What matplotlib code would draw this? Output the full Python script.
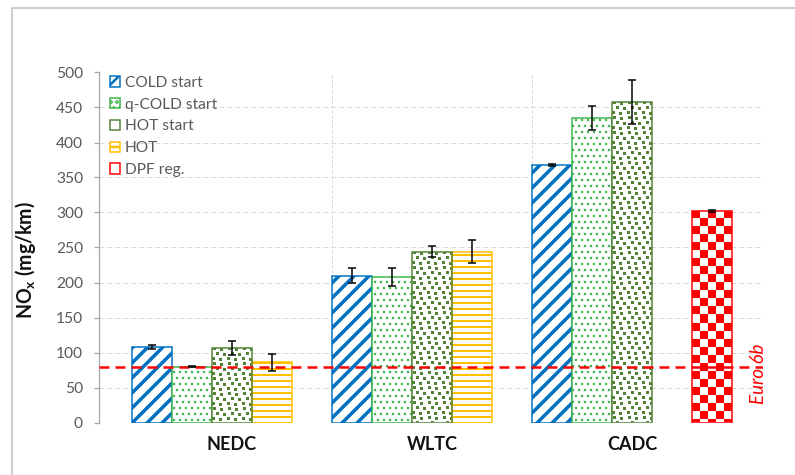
import numpy as np
import matplotlib.pyplot as plt
from matplotlib.colors import to_rgb
from matplotlib.patches import Rectangle

plt.rcParams['font.family'] = ['Lato', 'DejaVu Sans']
plt.rcParams['mathtext.default'] = 'regular'

# NOx emissions per driving cycle and start condition
cycles = ['NEDC', 'WLTC', 'CADC']
series = ['COLD start', 'q-COLD start', 'HOT start', 'HOT', 'DPF reg.']
cold = [108, 210, 368]
cold_err = [3, 11, 1]
qcold = [80, 208, 435]
qcold_err = [1, 13, 17]
hot_start = [107, 244, 458]
hot_start_err = [10, 8, 31]
hot = [86, 244, np.nan]
hot_err = [12, 16, np.nan]
dpf = [np.nan, np.nan, 302]
dpf_err = [np.nan, np.nan, 1]
euro6b = 80

colors = ['#0070C0', '#3CB54A', '#548235', '#FFC000', '#FF0000']

DPI = 180
W, H = 795, 475
fig = plt.figure(figsize=(W / DPI, H / DPI), dpi=DPI)
ax = fig.add_axes([99 / W, 1 - 422.5 / H, 664 / W, 350 / H])
xlim = (-0.665, 2.655)
ylim = (0, 500)
px_x = 664 / (xlim[1] - xlim[0])
px_y = 350 / (ylim[1] - ylim[0])

# outer chart border
fig.patches.append(Rectangle((12 / W, -0.1), 1.2, 1.1 - 8 / H, transform=fig.transFigure,
                             fill=False, edgecolor='#BFBFBF', lw=0.6, clip_on=False))


def texture_bar(bar, tile, color):
    # fill a bar with a pixel pattern, clipped to the bar outline
    x0, w = bar.get_x(), bar.get_width()
    y0, h = bar.get_y(), bar.get_height()
    if not np.isfinite(h):
        return
    nx, ny = int(round(w * px_x)), int(round(h * px_y))
    reps = (ny // tile.shape[0] + 1, nx // tile.shape[1] + 1)
    mask = np.tile(tile, reps)[:ny, :nx]
    rgb = np.ones((ny, nx, 3))
    rgb[mask > 0] = to_rgb(color)
    im = ax.imshow(rgb, extent=(x0, x0 + w, y0, y0 + h), origin='upper',
                   interpolation='nearest', aspect='auto', zorder=2)
    im.set_clip_path(bar)


checker = np.kron([[1, 0], [0, 1]], np.ones((8, 8)))
confetti = np.zeros((15, 15))
for r, c in [(0, 1), (1, 8), (5, 4), (6, 11), (10, 0), (11, 7)]:
    confetti[r:r + 3, c:c + 3] = 1

x = np.arange(len(cycles))
bw = 0.2
vals = [cold, qcold, hot_start, hot, dpf]
errs = [cold_err, qcold_err, hot_start_err, hot_err, dpf_err]
hatches = ['////', '.....', None, '-----', None]
hatch_lw = [1.4, 0.5, 0.5, 0.8, 0.5]
handles = []
for k in range(5):
    xs = x + (k - 2) * bw
    with plt.rc_context({'hatch.linewidth': hatch_lw[k]}):
        if hatches[k]:
            bars = ax.bar(xs, vals[k], bw, facecolor='white', edgecolor=colors[k],
                          hatch=hatches[k], lw=0.6, zorder=2, label=series[k])
        else:
            bars = ax.bar(xs, vals[k], bw, facecolor='none', edgecolor=colors[k],
                          lw=0.6, zorder=3, label=series[k])
            for b in bars:
                texture_bar(b, confetti if k == 2 else checker, colors[k])
    handles.append(bars)
    ax.errorbar(xs, vals[k], yerr=errs[k], fmt='none', ecolor='black',
                elinewidth=0.6, capsize=1.6, capthick=0.6, zorder=5)

# Euro 6b limit
ax.axhline(euro6b, color='#FF0000', lw=1.0, ls=(0, (4, 2.4)), zorder=4)
ax.text(2.63, 70, 'Euro 6b', rotation=90, color='#FF0000', style='italic',
        fontsize=7.5, ha='center', va='center')

ax.set_xlim(xlim)
ax.set_ylim(ylim)
ax.set_yticks(np.arange(0, 501, 50))
ax.set_xticks(x)
ax.set_xticklabels(cycles, fontsize=7.2, fontweight='bold', color='#111111')
ax.tick_params(axis='x', length=0, pad=5.4)
ax.tick_params(axis='y', length=2, width=0.5, color='#A6A6A6', pad=4.4,
               labelsize=6.2, labelcolor='#595959')
ax.grid(axis='y', color='#D9D9D9', lw=0.4, ls=(0, (5, 3)))
for xv in [0.5, 1.5]:
    ax.axvline(xv, color='#D9D9D9', lw=0.4, ls=(0, (3, 2)), zorder=0.5)
ax.set_axisbelow(True)
for s in ['top', 'right', 'bottom']:
    ax.spines[s].set_visible(False)
ax.spines['left'].set_color('#A6A6A6')
ax.spines['left'].set_linewidth(0.5)

ax.set_ylabel('NO$_x$ (mg/km)', fontsize=7.8, fontweight='bold', color='#111111')
ax.yaxis.set_label_coords(-0.092, 0.465)

leg = ax.legend(handles=handles, loc='upper left', bbox_to_anchor=(0.0166, 0.99),
                frameon=False, fontsize=6.2, handlelength=0.65, handleheight=0.65,
                handletextpad=0.3, labelspacing=0.5, borderpad=0, borderaxespad=0)
for t in leg.get_texts():
    t.set_color('#595959')

fig.savefig('out.png', dpi=DPI)
